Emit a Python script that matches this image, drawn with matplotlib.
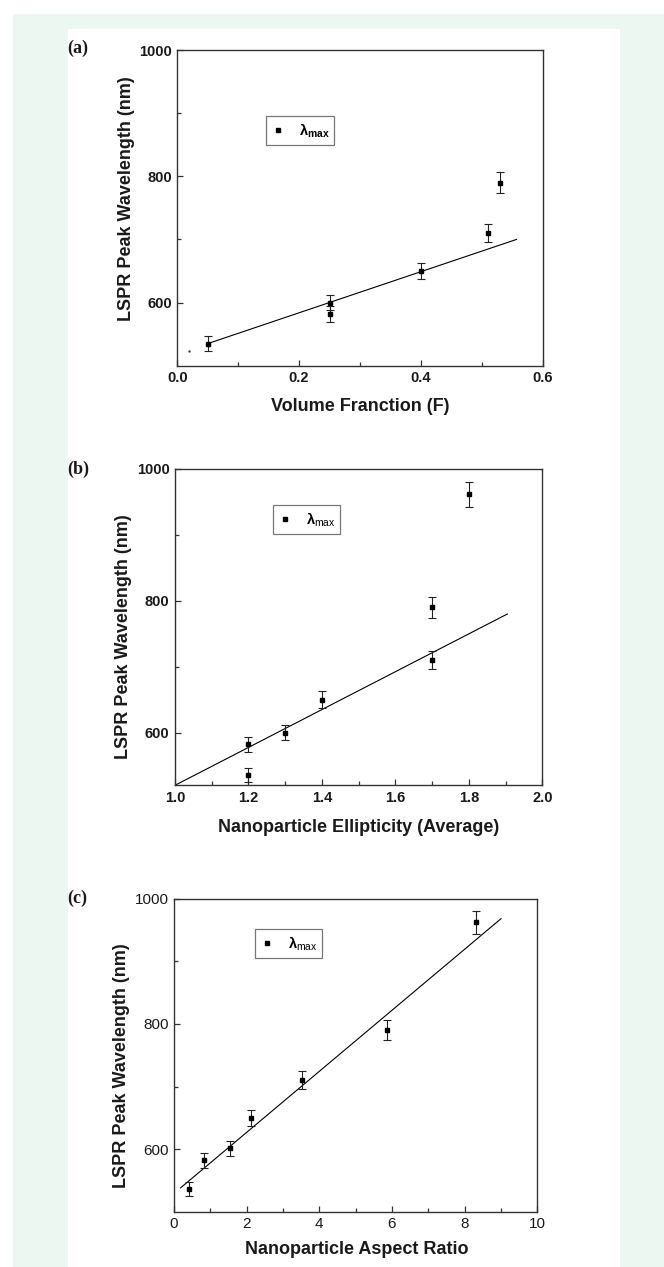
import matplotlib
matplotlib.use("Agg")
import matplotlib.pyplot as plt
from matplotlib.patches import Rectangle
from matplotlib.lines import Line2D
from matplotlib.ticker import FixedLocator, FormatStrFormatter

plt.rcParams['font.family'] = ['Liberation Sans', 'DejaVu Sans']
plt.rcParams['mathtext.fontset'] = 'custom'
plt.rcParams['mathtext.rm'] = 'Liberation Sans'
plt.rcParams['mathtext.bf'] = 'Liberation Sans:bold'

W, H = 664, 1267

# (a) volume fraction
a_x = [0.05, 0.25, 0.25, 0.40, 0.51, 0.53]
a_y = [535, 600, 582, 650, 710, 790]
a_err = [12, 12, 12, 13, 14, 16]
a_fit_x = [0.05, 0.557]
a_fit_y = [535, 700]
a_stray = [0.019, 523]

# (b) ellipticity
b_x = [1.2, 1.2, 1.3, 1.4, 1.7, 1.7, 1.8]
b_y = [582, 536, 600, 650, 790, 710, 962]
b_err = [12, 11, 12, 13, 16, 14, 19]
b_fit_x = [1.0, 1.905]
b_fit_y = [520, 780]

# (c) aspect ratio
c_x = [0.41, 0.83, 1.53, 2.12, 3.51, 5.87, 8.30]
c_y = [536, 582, 601, 650, 710, 790, 962]
c_err = [11, 12, 12, 13, 14, 16, 19]
c_fit_x = [0.18, 9.0]
c_fit_y = [538, 968]


def fx(x):
    return x / W


def fy(y):
    return 1 - y / H


fig = plt.figure(figsize=(W / 100, H / 100), dpi=100)
fig.patches.append(Rectangle((fx(13), 0), 1 - fx(13), fy(14), transform=fig.transFigure,
                             facecolor='#edf7f2', edgecolor='none', zorder=-10))
fig.patches.append(Rectangle((fx(68), 0), fx(620) - fx(68), fy(29), transform=fig.transFigure,
                             facecolor='white', edgecolor='none', zorder=-9))


def make_axes(l, r, t, b):
    return fig.add_axes([fx(l), fy(b), fx(r) - fx(l), (b - t) / H])


def style(ax, xlim, ylim, xmaj, xmin, fmt, bold_ticks, tsize):
    ax.set_xlim(*xlim)
    ax.set_ylim(*ylim)
    ax.xaxis.set_major_locator(FixedLocator(xmaj))
    ax.xaxis.set_minor_locator(FixedLocator(xmin))
    ax.yaxis.set_major_locator(FixedLocator([600, 800, 1000]))
    ax.yaxis.set_minor_locator(FixedLocator([700, 900]))
    ax.xaxis.set_major_formatter(FormatStrFormatter(fmt))
    for s in ax.spines.values():
        s.set_color('#333333')
        s.set_linewidth(1.0)
    ax.tick_params(which='both', direction='in', top=False, right=False, color='#333333')
    ax.tick_params(which='major', length=4.5, width=0.9, labelsize=tsize, pad=4)
    ax.tick_params(which='minor', length=3, width=0.9)
    for lab in ax.get_xticklabels() + ax.get_yticklabels():
        lab.set_fontweight('bold' if bold_ticks else 'normal')
        lab.set_color('#1a1a1a')


def draw(ax, x, y, err, fx_, fy_):
    ax.plot(fx_, fy_, color='black', linewidth=0.8)
    ax.errorbar(x, y, yerr=err, fmt='s', color='black', ms=3.2, ecolor='#222222',
                elinewidth=0.8, capsize=2.6, capthick=0.8)


# panel a
ax_a = make_axes(177.3, 542.7, 50, 365.7)
draw(ax_a, a_x, a_y, a_err, a_fit_x, a_fit_y)
ax_a.plot([a_stray[0]], [a_stray[1]], marker='.', ms=1.5, color='#444444')
style(ax_a, (0, 0.6), (500, 1000), [0, 0.2, 0.4, 0.6], [0.1, 0.3, 0.5], '%.1f', True, 10.5)

# panel b
ax_b = make_axes(175, 542.3, 469, 785.3)
draw(ax_b, b_x, b_y, b_err, b_fit_x, b_fit_y)
style(ax_b, (1.0, 2.0), (520, 1000), [1.0, 1.2, 1.4, 1.6, 1.8, 2.0],
      [1.1, 1.3, 1.5, 1.7, 1.9], '%.1f', True, 10.5)

# panel c
ax_c = make_axes(174, 537.3, 898.7, 1211.7)
draw(ax_c, c_x, c_y, c_err, c_fit_x, c_fit_y)
style(ax_c, (0, 10), (500, 1000), [0, 2, 4, 6, 8, 10], [1, 3, 5, 7, 9], '%d', False, 11)

# legends, marker only
leg_pos = [(ax_a, 265.7, 115.7, r'λ$_{\mathbf{max}}$'),
           (ax_b, 273, 505, r'λ$_{\mathrm{max}}$'),
           (ax_c, 255, 929, r'λ$_{\mathrm{max}}$')]
for ax, l, t, lab in leg_pos:
    h = Line2D([], [], marker='s', ls='none', color='black', ms=3.2)
    leg = ax.legend([h], [lab], loc='upper left', bbox_to_anchor=(fx(l), fy(t)),
                    bbox_transform=fig.transFigure, fancybox=False, frameon=True,
                    borderpad=0.35, handlelength=1.0, handletextpad=0.9, borderaxespad=0,
                    prop={'weight': 'bold', 'size': 10.5})
    leg.get_frame().set_edgecolor('#555555')
    leg.get_frame().set_linewidth(0.9)

# axis labels
ylab = 'LSPR Peak Wavelength (nm)'
for x, y in [(126.5, 199), (123, 637), (122, 1066)]:
    fig.text(fx(x), fy(y), ylab, rotation=90, ha='center', va='center',
             fontsize=13, fontweight='bold', color='#1a1a1a')
xlabs = [('Volume Franction (F)', 360, 406), ('Nanoparticle Ellipticity (Average)', 359, 827),
         ('Nanoparticle Aspect Ratio', 356.5, 1250)]
for txt, x, y in xlabs:
    fig.text(fx(x), fy(y), txt, ha='center', va='center', fontsize=13,
             fontweight='bold', color='#1a1a1a')

# panel letters
for txt, y in [('(a)', 48), ('(b)', 469), ('(c)', 898)]:
    fig.text(fx(67), fy(y), txt, ha='left', va='center', fontsize=13, fontweight='bold',
             family='Liberation Serif', color='#1a1a1a')

fig.savefig('out.png', dpi=100)
